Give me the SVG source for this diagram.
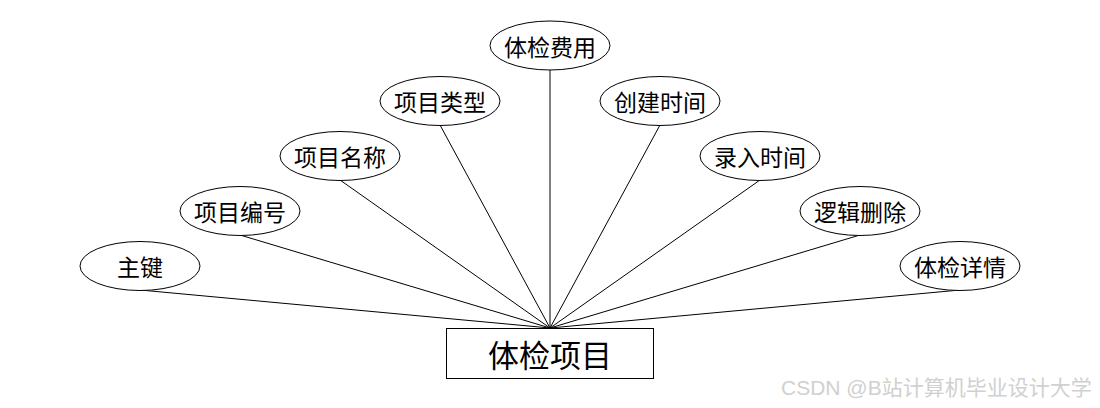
<svg xmlns="http://www.w3.org/2000/svg" width="1100" height="408" viewBox="0 0 1100 408">
<style>
.attr ellipse{fill:#fff;stroke:#000;stroke-width:1}
.attr text{font-family:"Noto Sans CJK SC","Liberation Sans",sans-serif;font-size:23px;fill:#000;text-anchor:middle;dominant-baseline:central}
.ent rect{fill:#fff;stroke:#000;stroke-width:1}
.ent text{font-family:"Noto Sans CJK SC","Liberation Sans",sans-serif;font-size:31px;fill:#000;text-anchor:middle;dominant-baseline:central}
#connectors line{stroke:#000;stroke-width:1}
.wm{font-family:"Liberation Sans","Noto Sans CJK SC",sans-serif;font-size:21px;fill:#d0d0d0}
</style>
<rect width="1100" height="408" fill="#fff"/>
<g id="connectors">
<line x1="140" y1="290" x2="550" y2="328"/>
<line x1="240" y1="235" x2="550" y2="328"/>
<line x1="340" y1="180" x2="550" y2="328"/>
<line x1="440" y1="125" x2="550" y2="328"/>
<line x1="550" y1="70" x2="550" y2="328"/>
<line x1="660" y1="125" x2="550" y2="328"/>
<line x1="760" y1="180" x2="550" y2="328"/>
<line x1="860" y1="235" x2="550" y2="328"/>
<line x1="960" y1="290" x2="550" y2="328"/>
</g>
<g id="attr-zhujian" class="attr"><ellipse cx="140" cy="266" rx="60" ry="24.5"/><text x="140" y="266">主键</text></g>
<g id="attr-xiangmubianhao" class="attr"><ellipse cx="240" cy="211" rx="60" ry="24.5"/><text x="240" y="211">项目编号</text></g>
<g id="attr-xiangmumingcheng" class="attr"><ellipse cx="340" cy="156" rx="60" ry="24.5"/><text x="340" y="156">项目名称</text></g>
<g id="attr-xiangmuleixing" class="attr"><ellipse cx="440" cy="101" rx="60" ry="24.5"/><text x="440" y="101">项目类型</text></g>
<g id="attr-tijianfeiyong" class="attr"><ellipse cx="550" cy="45.5" rx="60" ry="24.5"/><text x="550" y="45.5">体检费用</text></g>
<g id="attr-chuangjianshijian" class="attr"><ellipse cx="660" cy="101" rx="60" ry="24.5"/><text x="660" y="101">创建时间</text></g>
<g id="attr-lurushijian" class="attr"><ellipse cx="760" cy="156" rx="60" ry="24.5"/><text x="760" y="156">录入时间</text></g>
<g id="attr-luojishanchu" class="attr"><ellipse cx="860" cy="211" rx="60" ry="24.5"/><text x="860" y="211">逻辑删除</text></g>
<g id="attr-tijianxiangqing" class="attr"><ellipse cx="960" cy="266" rx="60" ry="24.5"/><text x="960" y="266">体检详情</text></g>
<g id="entity-tijianxiangmu" class="ent"><rect x="446.5" y="328.5" width="207" height="50"/><text x="550" y="353.5">体检项目</text></g>
<text class="wm" x="781" y="395">CSDN @B站计算机毕业设计大学</text>
</svg>
